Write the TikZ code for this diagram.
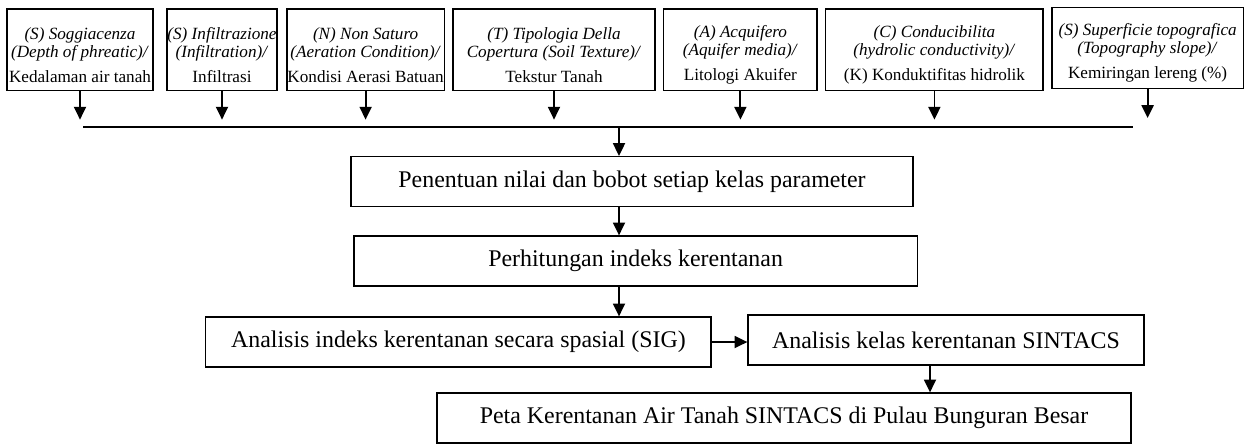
\documentclass[tikz,border=0pt]{standalone}
\usepackage{fontspec}
\setmainfont{Liberation Serif}
\usepackage{tikz}
\usetikzlibrary{arrows.meta,positioning,calc}

\newcommand{\boxlift}{\rule{0pt}{0.55cm}}

\tikzset{
    param/.style={draw, line width=0.9pt, align=center, inner xsep=0pt, minimum height=2.03cm,
        font=\fontsize{12.2}{12.8}\selectfont},
    stepbox/.style={draw, line width=0.9pt, align=center, minimum height=1.25cm,
        font=\fontsize{17}{20}\selectfont},
    arr/.style={line width=1.3pt, -{Triangle[length=0.32cm,width=0.3cm]}}
}

\begin{document}
\begin{tikzpicture}
\useasboundingbox (0,0) rectangle (31.1,-11.1);

% Parameter boxes
\node[param, minimum width=3.65cm] (p1) at (2.0,-1.24) {
    \boxlift\textit{(S) Soggiacenza}\\
    \textit{(Depth of phreatic)/}\\[5pt]
    Kedalaman air tanah
};
\node[param, minimum width=2.75cm] (p2) at (5.55,-1.24) {
    \boxlift\textit{(S) Infiltrazione}\\
    \textit{(Infiltration)/}\\[5pt]
    Infiltrasi
};
\node[param, minimum width=3.93cm] (p3) at (9.14,-1.24) {
    \boxlift\textit{(N) Non Saturo}\\
    \textit{(Aeration Condition)/}\\[5pt]
    Kondisi Aerasi Batuan
};
\node[param, minimum width=5.05cm] (p4) at (13.85,-1.24) {
    \boxlift\textit{(T) Tipologia Della}\\
    \textit{Copertura (Soil Texture)/}\\[5pt]
    Tekstur Tanah
};
\node[param, minimum width=3.83cm] (p5) at (18.51,-1.24) {
    \boxlift\textit{(A) Acquifero}\\
    \textit{(Aquifer media)/}\\[5pt]
    Litologi Akuifer
};
\node[param, minimum width=5.43cm] (p6) at (23.36,-1.24) {
    \boxlift\textit{(C) Conducibilita}\\
    \textit{(hydrolic conductivity)/}\\[5pt]
    (K) Konduktifitas hidrolik
};
\node[param, minimum width=4.78cm] (p7) at (28.69,-1.2) {
    \boxlift\textit{(S) Superficie topografica}\\
    \textit{(Topography slope)/}\\[5pt]
    Kemiringan lereng (\%)
};

% Arrows down to the collecting line
\foreach \p in {p1,p2,p3,p4,p5,p6,p7}
    \draw[arr] (\p.south) -- ++(0,-0.72);

% Collecting line
\coordinate (busL) at (2.075,-3.175);
\coordinate (busR) at (28.325,-3.175);
\coordinate (mid) at (15.475,-3.175);
\draw[line width=1.3pt] (busL) -- (busR);

% Process steps
\node[stepbox, minimum width=14.05cm] (pen) at (15.8,-4.54) {Penentuan nilai dan bobot setiap kelas parameter};
\node[stepbox, minimum width=14.08cm] (hit) at (15.89,-6.525) {Perhitungan indeks kerentanan};
\node[stepbox, minimum width=12.63cm] (sig) at (11.46,-8.55) {Analisis indeks kerentanan secara spasial (SIG)};
\node[stepbox, minimum width=9.9cm] (kls) at (23.65,-8.5) {Analisis kelas kerentanan SINTACS};
\node[stepbox, minimum width=17.35cm] (peta) at (19.6,-10.45) {Peta Kerentanan Air Tanah SINTACS di Pulau Bunguran Besar};

% Flow
\draw[arr] (mid) -- (mid |- pen.north);
\draw[arr] (mid |- pen.south) -- (mid |- hit.north);
\draw[arr] (mid |- hit.south) -- (mid |- sig.north);
\draw[arr] (sig.east) -- (sig.east -| kls.west);
\draw[arr] ([xshift=-0.4cm]kls.south) -- ([xshift=-0.4cm]kls.south |- peta.north);

\end{tikzpicture}
\end{document}
